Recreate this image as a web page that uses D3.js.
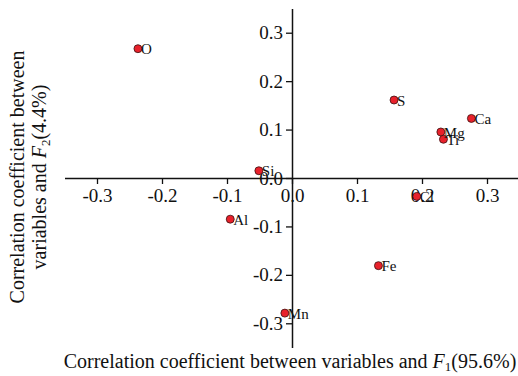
<!DOCTYPE html>
<html>
<head>
<meta charset="utf-8">
<script src="https://cdn.jsdelivr.net/npm/d3@7"></script>
<style>
  body { margin: 0; background: #fff; }
  svg { display: block; font-family: "Liberation Serif", "DejaVu Serif", serif; }
</style>
</head>
<body>
<svg id="chart"></svg>
<script>
const elements = ["O", "Si", "S", "Ca", "Mg", "Ti", "Cl", "Al", "Fe", "Mn"];
const f1Values = [-0.237, -0.051, 0.157, 0.276, 0.229, 0.233, 0.192, -0.095, 0.133, -0.011];
const f2Values = [0.267, 0.015, 0.161, 0.123, 0.095, 0.080, -0.038, -0.085, -0.181, -0.279];
const tickValues = [-0.3, -0.2, -0.1, 0.0, 0.1, 0.2, 0.3];

const width = 518;
const height = 376;

const data = elements.map((name, i) => ({ name, f1: f1Values[i], f2: f2Values[i] }));

const xScale = d3.scaleLinear([-0.35, 0.35], [64.5, 519.5]);
const yScale = d3.scaleLinear([-0.35, 0.35], [347.5, 8.5]);

const fmt = d => d3.format(".1f")(d).replace("\u2212", "-");

const svg = d3.select("svg#chart").attr("width", width).attr("height", height);

const xAxis = d3.axisBottom(xScale)
  .tickValues(tickValues)
  .tickFormat(fmt)
  .tickSizeInner(6)
  .tickSizeOuter(0)
  .tickPadding(5);

const yAxis = d3.axisLeft(yScale)
  .tickValues(tickValues)
  .tickFormat(fmt)
  .tickSizeInner(6)
  .tickSizeOuter(0)
  .tickPadding(3);

const gx = svg.append("g")
  .attr("transform", `translate(0, ${yScale(0)})`)
  .call(xAxis);

const gy = svg.append("g")
  .attr("transform", `translate(${xScale(0)}, 0)`)
  .call(yAxis);

[gx, gy].forEach(g => {
  g.attr("font-family", "Liberation Serif").attr("font-size", 19);
  g.selectAll("text").attr("fill", "#111");
  g.selectAll("line").attr("stroke", "#111").attr("stroke-width", 1.3);
  g.select(".domain").attr("stroke", "#111").attr("stroke-width", 1.5);
});

svg.selectAll("circle.pt")
  .data(data)
  .join("circle")
  .attr("class", "pt")
  .attr("cx", d => xScale(d.f1))
  .attr("cy", d => yScale(d.f2))
  .attr("r", 4)
  .attr("fill", "#e8212b")
  .attr("stroke", "#3a1010")
  .attr("stroke-width", 0.8);

svg.selectAll("text.label")
  .data(data)
  .join("text")
  .attr("class", "label")
  .attr("x", d => xScale(d.f1) + 3)
  .attr("y", d => yScale(d.f2))
  .attr("dy", "0.38em")
  .style("font-size", "15px")
  .attr("fill", "#111")
  .text(d => d.name);

const xLabel = svg.append("text")
  .attr("x", 290)
  .attr("y", 368)
  .attr("text-anchor", "middle")
  .style("font-size", "20px")
  .attr("fill", "#111");
xLabel.append("tspan").text("Correlation coefficient between variables and ");
xLabel.append("tspan").style("font-style", "italic").text("F");
xLabel.append("tspan").attr("dy", 3).style("font-size", "13px").text("1");
xLabel.append("tspan").attr("dy", -3).text("(95.6%)");

const yLabel = svg.append("g")
  .attr("transform", "translate(0, 177) rotate(-90)")
  .style("font-size", "20px")
  .attr("fill", "#111");
yLabel.append("text")
  .attr("x", 0)
  .attr("y", 24)
  .attr("text-anchor", "middle")
  .text("Correlation coefficient between");
const l2 = yLabel.append("text")
  .attr("x", 0)
  .attr("y", 46)
  .attr("text-anchor", "middle");
l2.append("tspan").text("variables and ");
l2.append("tspan").style("font-style", "italic").text("F");
l2.append("tspan").attr("dy", 4).style("font-size", "13px").text("2");
l2.append("tspan").attr("dy", -4).text("(4.4%)");
</script>
</body>
</html>
